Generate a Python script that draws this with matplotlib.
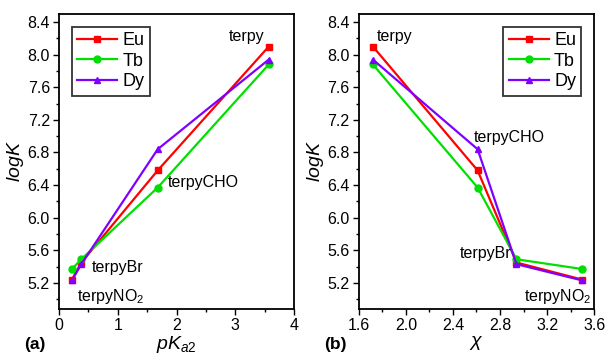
import matplotlib
matplotlib.use('Agg')
import matplotlib.pyplot as plt
from matplotlib.ticker import MultipleLocator

plt.rcParams['font.family'] = ['Liberation Sans', 'DejaVu Sans']
plt.rcParams['mathtext.fontset'] = 'custom'
plt.rcParams['mathtext.rm'] = 'Liberation Sans'
plt.rcParams['mathtext.it'] = 'Liberation Sans:italic'

# ligands: terpy, terpyCHO, terpyBr, terpyNO2
pka2 = [3.57, 1.68, 0.38, 0.22]
chi = [1.72, 2.61, 2.94, 3.50]
eu = [8.10, 6.58, 5.45, 5.24]
tb = [7.88, 6.37, 5.49, 5.37]
dy = [7.94, 6.84, 5.43, 5.23]

series = [("Eu", eu, 'red', 's'), ("Tb", tb, '#00e000', 'o'), ("Dy", dy, '#8000ff', '^')]

fig = plt.figure(figsize=(6.05, 3.57), dpi=100)
ax1 = fig.add_axes([0.0975, 0.1345, 0.3885, 0.8265])
ax2 = fig.add_axes([0.593, 0.1345, 0.389, 0.8265])


def style(ax):
    ax.set_ylim(4.88, 8.5)
    ax.yaxis.set_major_locator(MultipleLocator(0.4))
    ax.yaxis.set_minor_locator(MultipleLocator(0.2))
    ax.tick_params(which='major', direction='out', length=4, width=1, labelsize=11.5,
                   top=False, right=False, pad=2.5)
    ax.tick_params(which='minor', direction='out', length=2, width=1, top=False, right=False)
    for s in ax.spines.values():
        s.set_linewidth(1.3)
    ax.set_ylabel('$logK$', fontsize=14, labelpad=1)


for ax, xs in [(ax1, pka2), (ax2, chi)]:
    for name, ys, c, m in series:
        ax.plot(xs, ys, color=c, marker=m, markersize=5, linewidth=1.6, label=name)
    style(ax)

leg_kw = dict(fontsize=13, frameon=True, fancybox=False, edgecolor='black',
              handlelength=2.2, borderaxespad=0.7, labelspacing=0.2, handletextpad=0.3,
              borderpad=0.3)

ax1.set_xlim(0, 4)
ax1.xaxis.set_major_locator(MultipleLocator(1))
ax1.xaxis.set_minor_locator(MultipleLocator(0.5))
ax1.set_xlabel('$pK_{a2}$', fontsize=14, labelpad=1)
ax1.legend(loc='upper left', **leg_kw).get_frame().set_linewidth(1.3)

ax2.set_xlim(1.6, 3.6)
ax2.xaxis.set_major_locator(MultipleLocator(0.4))
ax2.xaxis.set_minor_locator(MultipleLocator(0.2))
ax2.set_xlabel(r'$\chi$', fontsize=14, labelpad=1)
ax2.legend(loc='upper right', **leg_kw).get_frame().set_linewidth(1.3)

# ligand labels
ax1.text(3.5, 8.22, 'terpy', fontsize=11.5, ha='right', va='center')
ax1.text(1.85, 6.43, 'terpyCHO', fontsize=11.5, ha='left', va='center')
ax1.text(0.55, 5.39, 'terpyBr', fontsize=11.5, ha='left', va='center')
ax1.text(0.3, 5.03, 'terpyNO$_2$', fontsize=11.5, ha='left', va='center')

ax2.text(1.75, 8.22, 'terpy', fontsize=11.5, ha='left', va='center')
ax2.text(2.58, 6.99, 'terpyCHO', fontsize=11.5, ha='left', va='center')
ax2.text(2.9, 5.56, 'terpyBr', fontsize=11.5, ha='right', va='center')
ax2.text(3.58, 5.03, 'terpyNO$_2$', fontsize=11.5, ha='right', va='center')

fig.text(0.058, 0.035, '(a)', fontsize=12.5, fontweight='bold', ha='center', va='center')
fig.text(0.555, 0.035, '(b)', fontsize=12.5, fontweight='bold', ha='center', va='center')

plt.savefig('out.png', dpi=100)
plt.close()
